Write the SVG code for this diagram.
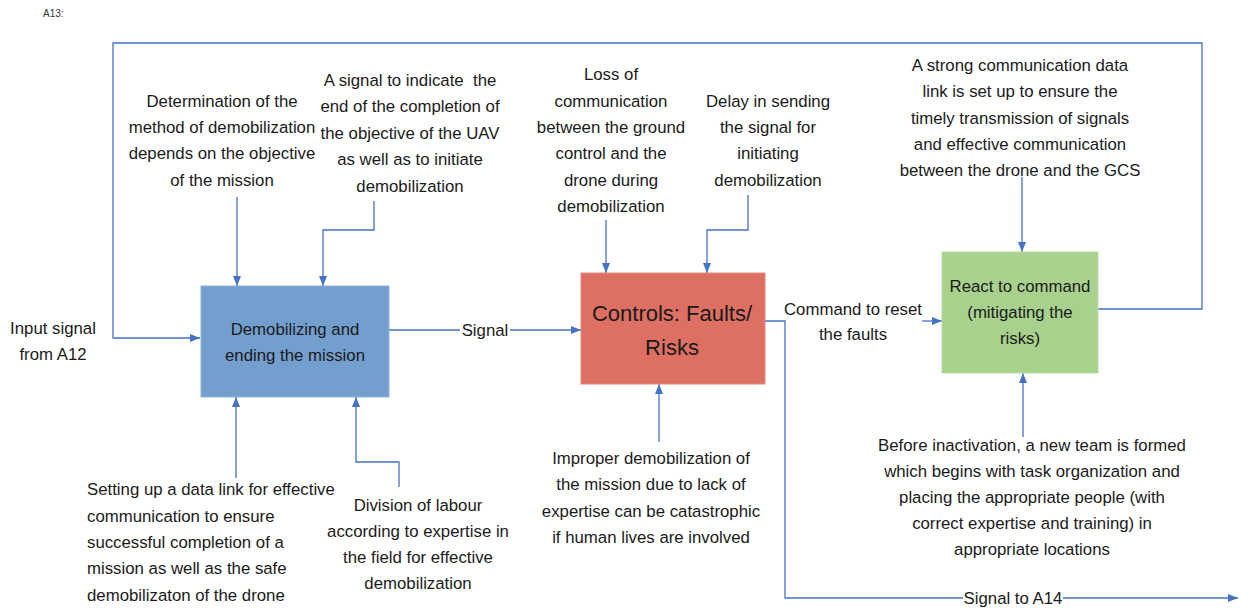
<svg xmlns="http://www.w3.org/2000/svg" width="1241" height="610" viewBox="0 0 1241 610">
<defs>
<marker id="ah" markerUnits="userSpaceOnUse" markerWidth="10" markerHeight="10" viewBox="0 0 10 10" refX="10" refY="5" orient="auto">
<path d="M0,1 L10,5 L0,9 Z" fill="#4472c4"/>
</marker>
<style>
.t{font-family:"Liberation Sans",Arial,sans-serif;font-size:16.8px;fill:#1a1a1a;text-anchor:middle}
.l{text-anchor:start}
.c{fill:none;stroke:#4472c4;stroke-width:1.3}
.a{marker-end:url(#ah)}
</style>
</defs>
<rect width="1241" height="610" fill="#ffffff"/>
<text x="43" y="17" style="font-family:'Liberation Sans',Arial,sans-serif;font-size:10px;fill:#333">A13:</text>

<g id="connectors">
<path class="c a" d="M1098,309 H1202 V43 H113 V338 H200"/>
<path class="c a" d="M237,197 V286"/>
<path class="c a" d="M374,201 V230 H323 V286"/>
<path class="c a" d="M236,478 V397"/>
<path class="c a" d="M399,487 V462 H356 V397"/>
<path class="c" d="M389,330 H460"/>
<path class="c a" d="M510,330 H581"/>
<path class="c a" d="M606,220 V273"/>
<path class="c a" d="M748,195 V230 H707 V273"/>
<path class="c a" d="M659,442 V384"/>
<path class="c" d="M765,321 H785 V598 H963"/>
<path class="c a" d="M1063,598 H1238"/>
<path class="c a" d="M922,321 H942"/>
<path class="c a" d="M1022,177 V252"/>
<path class="c a" d="M1023,437 V373"/>
</g>

<g id="node-demobilizing">
<rect x="201" y="286" width="188" height="111" fill="#739fcf" stroke="#8fb2da" stroke-width="1"/>
<text class="t" x="295" y="335">Demobilizing and</text>
<text class="t" x="295" y="361">ending the mission</text>
</g>

<g id="node-controls">
<rect x="581" y="273" width="184" height="111" fill="#dd6f63" stroke="#e58a80" stroke-width="1"/>
<text class="t" x="672" y="321" style="font-size:22px">Controls: Faults/</text>
<text class="t" x="672" y="355" style="font-size:22px">Risks</text>
</g>

<g id="node-react">
<rect x="942" y="252" width="156" height="121" fill="#a9d18e" stroke="#b9dba2" stroke-width="1"/>
<text class="t" x="1020" y="292">React to command</text>
<text class="t" x="1020" y="318">(mitigating the</text>
<text class="t" x="1020" y="344">risks)</text>
</g>

<g id="label-input">
<text class="t" x="53" y="334">Input signal</text>
<text class="t" x="53" y="360">from A12</text>
</g>

<g id="label-determination">
<text class="t" x="222" y="107">Determination of the</text>
<text class="t" x="222" y="133">method of demobilization</text>
<text class="t" x="222" y="159">depends on the objective</text>
<text class="t" x="222" y="186">of the mission</text>
</g>

<g id="label-signal-end">
<text class="t" x="410" y="86" xml:space="preserve" style="white-space:pre">A signal to indicate  the</text>
<text class="t" x="410" y="112">end of the completion of</text>
<text class="t" x="410" y="139">the objective of the UAV</text>
<text class="t" x="410" y="165">as well as to initiate</text>
<text class="t" x="410" y="192">demobilization</text>
</g>

<g id="label-loss">
<text class="t" x="611" y="80">Loss of</text>
<text class="t" x="611" y="107">communication</text>
<text class="t" x="611" y="133">between the ground</text>
<text class="t" x="611" y="159">control and the</text>
<text class="t" x="611" y="186">drone during</text>
<text class="t" x="611" y="212">demobilization</text>
</g>

<g id="label-delay">
<text class="t" x="768" y="107">Delay in sending</text>
<text class="t" x="768" y="133">the signal for</text>
<text class="t" x="768" y="159">initiating</text>
<text class="t" x="768" y="186">demobilization</text>
</g>

<g id="label-strong-link">
<text class="t" x="1020" y="71">A strong communication data</text>
<text class="t" x="1020" y="97">link is set up to ensure the</text>
<text class="t" x="1020" y="124">timely transmission of signals</text>
<text class="t" x="1020" y="150">and effective communication</text>
<text class="t" x="1020" y="176">between the drone and the GCS</text>
</g>

<g id="label-signal">
<text class="t" x="485" y="336">Signal</text>
</g>

<g id="label-command">
<text class="t" x="853" y="315">Command to reset</text>
<text class="t" x="853" y="340">the faults</text>
</g>

<g id="label-setting-up">
<text class="t l" x="87" y="495">Setting up a data link for effective</text>
<text class="t l" x="87" y="522">communication to ensure</text>
<text class="t l" x="87" y="548">successful completion of a</text>
<text class="t l" x="87" y="574">mission as well as the safe</text>
<text class="t l" x="87" y="601">demobilizaton of the drone</text>
</g>

<g id="label-division">
<text class="t" x="418" y="511">Division of labour</text>
<text class="t" x="418" y="537">according to expertise in</text>
<text class="t" x="418" y="563">the field for effective</text>
<text class="t" x="418" y="589">demobilization</text>
</g>

<g id="label-improper">
<text class="t" x="651" y="464">Improper demobilization of</text>
<text class="t" x="651" y="490">the mission due to lack of</text>
<text class="t" x="651" y="517">expertise can be catastrophic</text>
<text class="t" x="651" y="543">if human lives are involved</text>
</g>

<g id="label-before">
<text class="t" x="1032" y="451">Before inactivation, a new team is formed</text>
<text class="t" x="1032" y="477">which begins with task organization and</text>
<text class="t" x="1032" y="503">placing the appropriate people (with</text>
<text class="t" x="1032" y="529">correct expertise and training) in</text>
<text class="t" x="1032" y="555">appropriate locations</text>
</g>

<g id="label-signal-a14">
<text class="t" x="1013" y="604">Signal to A14</text>
</g>
</svg>
